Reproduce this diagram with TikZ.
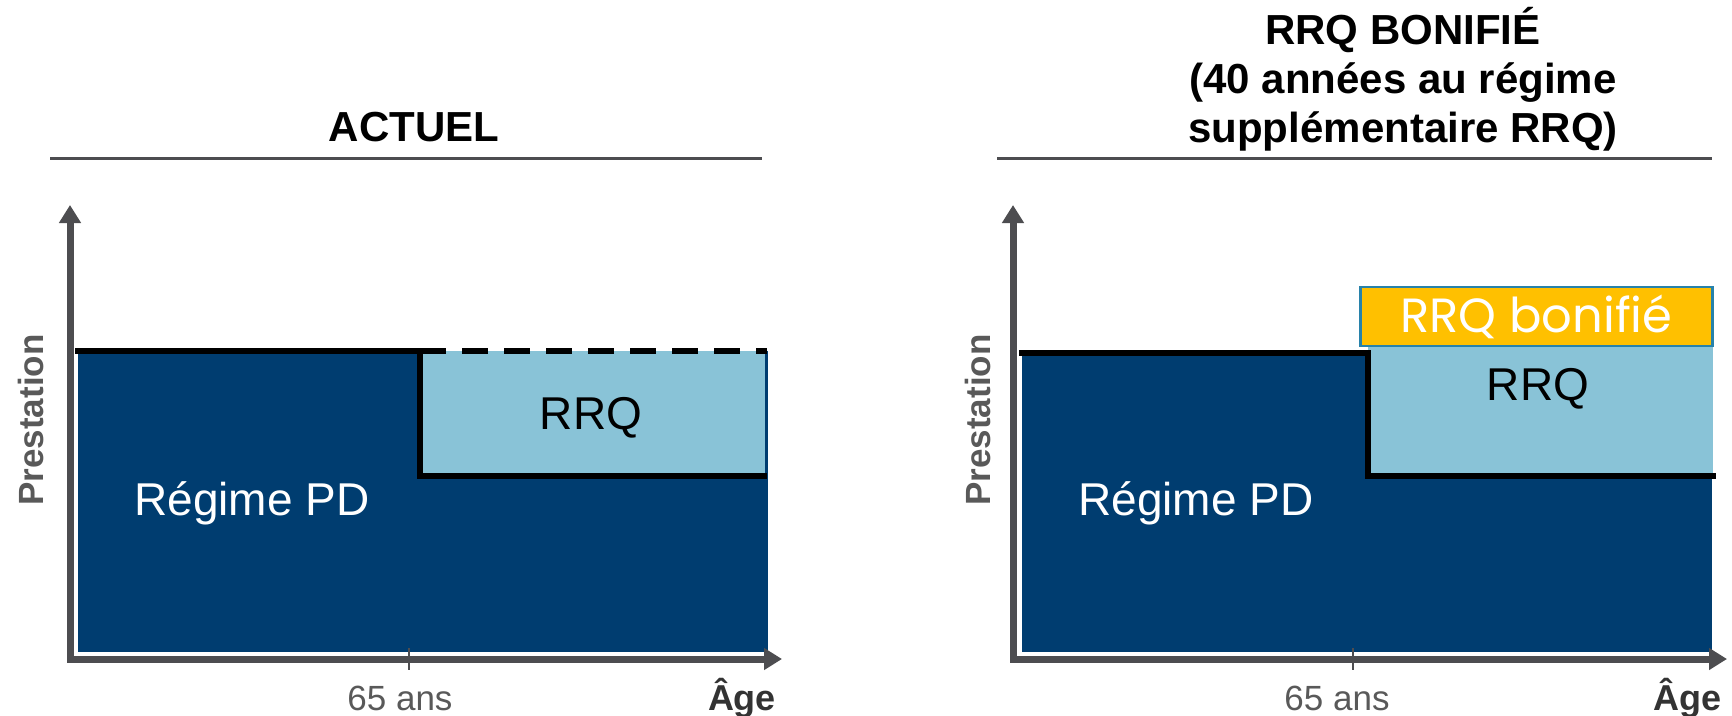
\documentclass[tikz,border=0pt]{standalone}
\usepackage{fontspec}
\setmainfont{Liberation Sans}
\newfontfamily\gothic{Poppins}
\usetikzlibrary{arrows.meta}
\definecolor{pdblue}{RGB}{0,61,112}
\definecolor{rrqblue}{RGB}{137,195,215}
\definecolor{bonus}{RGB}{255,192,0}
\definecolor{bonusline}{RGB}{40,130,170}
\definecolor{axisgray}{RGB}{77,77,80}
\definecolor{labelgray}{RGB}{89,89,89}
\tikzset{
  title/.style={font=\fontsize{42}{49}\selectfont\bfseries, align=center},
  rule/.style={line width=3pt, color=axisgray},
  axis/.style={line width=7pt, color=axisgray, line join=miter,
    {Triangle[length=18pt,width=21pt]}-{Triangle[length=18pt,width=21pt]}},
  stepline/.style={line width=6pt, black},
  tickmark/.style={line width=1.5pt, color=axisgray},
  ticklabel/.style={font=\fontsize{35}{40}\selectfont, labelgray},
  agelabel/.style={font=\fontsize{36}{40}\selectfont\bfseries, color=black!80},
  ylabel/.style={font=\fontsize{35}{40}\selectfont\bfseries, labelgray, rotate=90},
  inlabel/.style={font=\fontsize{46}{50}\selectfont}
}
\begin{document}
\begin{tikzpicture}[x=1pt,y=-1pt]
\useasboundingbox (0,0) rectangle (1732,715);
% --- actuel ---
\node[title] (t1) at (414,127) {ACTUEL};
\draw[rule] (50,158) -- (762,158);
\fill[pdblue] (78,351) rectangle (768,652);
\fill[rrqblue] (420,351) rectangle (765,476);
\draw[stepline] (75,351) -- (420,351) -- (420,476) -- (767,476);
\draw[stepline, dash pattern=on 26pt off 16pt] (420,351) -- (767,351);
\coordinate (o1) at (70,659);
\coordinate (y1) at (70,205);
\coordinate (x1) at (782,659);
\draw[axis] (y1) -- (o1) -- (x1);
\draw[tickmark] (409,648) -- (409,670);
\node[inlabel] (rrq1) at (591,418) {RRQ};
\node[inlabel, white] (pd1) at (252,503) {Régime PD};
\node[ticklabel] (a1) at (400,698) {65 ans};
\node[agelabel] (g1) at (742,698) {Âge};
\node[ylabel] (p1) at (31,420) {Prestation};
% --- rrq bonifie ---
\node[title] (t2) at (1403,79) {RRQ BONIFIÉ\\(40 années au régime\\supplémentaire RRQ)};
\draw[rule] (997,158) -- (1712,158);
\fill[pdblue] (1022,351) rectangle (1712,652);
\fill[rrqblue] (1368,346) rectangle (1713,476);
\draw[stepline] (1019,353) -- (1368,353) -- (1368,476) -- (1716,476);
\node[draw=bonusline, line width=2.5pt, fill=bonus, minimum width=352pt,
  minimum height=59pt, inner sep=0pt, font=\gothic\fontsize{48}{50}\selectfont,
  text=white] (b2) at (1536.5,316.5) {RRQ bonifié};
\coordinate (o2) at (1013,659);
\coordinate (y2) at (1013,205);
\coordinate (x2) at (1727,659);
\draw[axis] (y2) -- (o2) -- (x2);
\draw[tickmark] (1353,648) -- (1353,670);
\node[inlabel] (rrq2) at (1538,389) {RRQ};
\node[inlabel, white] (pd2) at (1196,503) {Régime PD};
\node[ticklabel] (a2) at (1337,698) {65 ans};
\node[agelabel] (g2) at (1687,698) {Âge};
\node[ylabel] (p2) at (978,420) {Prestation};
\end{tikzpicture}
\end{document}
